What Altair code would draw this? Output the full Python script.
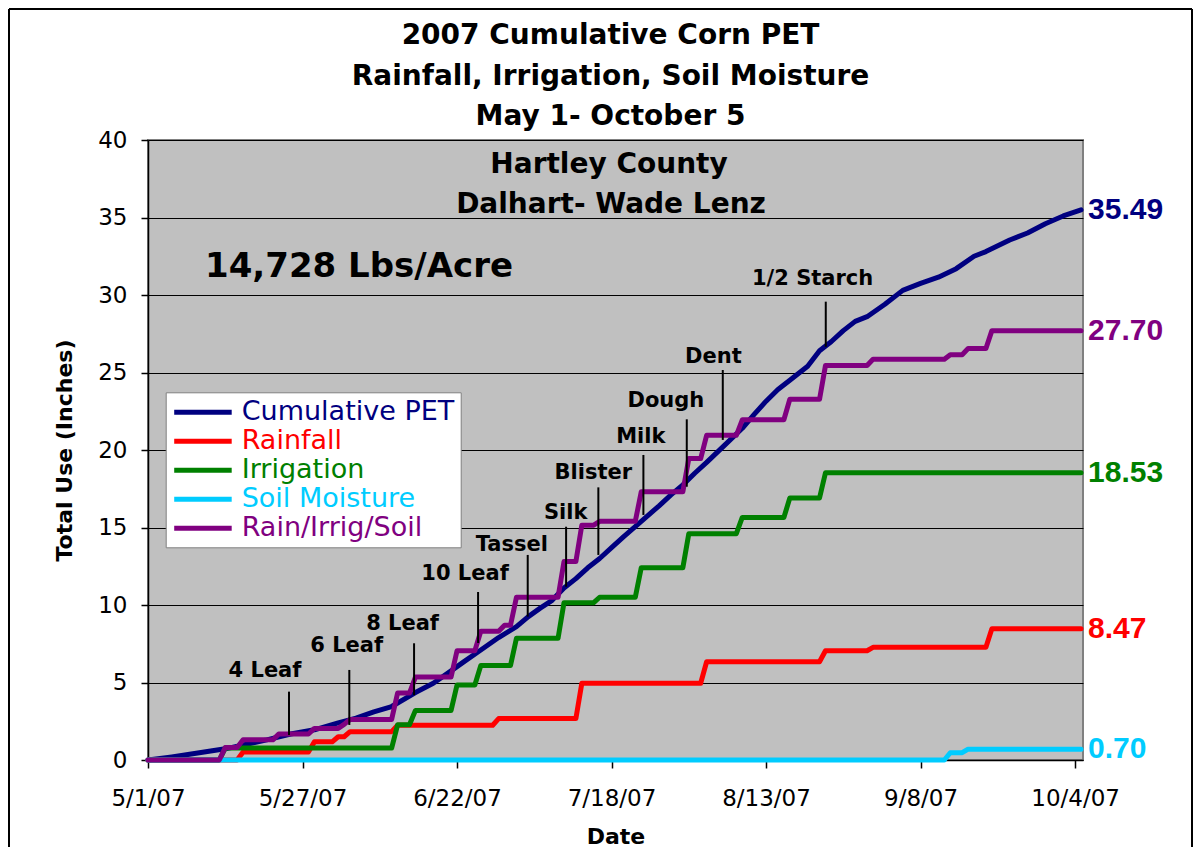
import altair as alt
import pandas as pd

# ---------------- data ----------------
title_lines = ["2007 Cumulative Corn PET", "Rainfall, Irrigation, Soil Moisture", "May 1- October 5"]
county_text = "Hartley County"
grower_text = "Dalhart- Wade Lenz"
yield_text = "14,728 Lbs/Acre"
x_title = "Date"
y_title = "Total Use (Inches)"
x_tick_dates = ["5/1", "5/27", "6/22", "7/18", "8/13", "9/8", "10/4"]
y_ticks = [0, 5, 10, 15, 20, 25, 30, 35, 40]

series_names = ["Cumulative PET", "Rainfall", "Irrigation", "Soil Moisture", "Rain/Irrig/Soil"]
series_colors = ["#000080", "#FF0000", "#008000", "#00CCFF", "#800080"]

pet_dates = ["5/1", "5/5", "5/11", "5/14", "5/18", "5/21", "5/25", "5/29", "6/2", "6/5",
             "6/8", "6/11", "6/15", "6/18", "6/21", "6/23", "6/26", "6/29", "7/2", "7/4",
             "7/6", "7/8", "7/10", "7/12", "7/14", "7/16", "7/18", "7/20", "7/23", "7/26",
             "7/28", "7/30", "8/1", "8/3", "8/6", "8/9", "8/11", "8/13", "8/15", "8/17",
             "8/20", "8/22", "8/24", "8/26", "8/28", "8/30", "9/2", "9/5", "9/8", "9/11",
             "9/14", "9/17", "9/19", "9/23", "9/26", "9/29", "10/2", "10/5"]
pet_values = [0, 0.2, 0.55, 0.72, 1.05, 1.3, 1.68, 1.95, 2.4, 2.7,
              3.1, 3.45, 4.35, 4.95, 5.75, 6.3, 7.1, 7.9, 8.6, 9.25,
              9.8, 10.3, 11.1, 11.7, 12.4, 13.0, 13.7, 14.4, 15.4, 16.4,
              17.1, 17.75, 18.5, 19.2, 20.3, 21.4, 22.3, 23.15, 23.9, 24.5,
              25.4, 26.4, 27.0, 27.7, 28.3, 28.6, 29.4, 30.3, 30.75, 31.15,
              31.7, 32.5, 32.8, 33.55, 34.0, 34.6, 35.1, 35.49]

rain_dates = ["5/1", "5/16", "5/17", "5/28", "5/29", "6/1", "6/2", "6/3", "6/4", "6/11",
              "6/12", "6/28", "6/29", "7/12", "7/13", "8/2", "8/3", "8/22", "8/23", "8/30",
              "8/31", "9/19", "9/20", "10/5"]
rain_values = [0, 0, 0.52, 0.52, 1.17, 1.17, 1.5, 1.5, 1.83, 1.83,
               2.24, 2.24, 2.67, 2.67, 4.95, 4.95, 6.34, 6.34, 7.05, 7.05,
               7.27, 7.27, 8.47, 8.47]

irr_dates = ["5/1", "5/13", "5/14", "6/11", "6/12", "6/14", "6/15", "6/21", "6/22", "6/25",
             "6/26", "7/1", "7/2", "7/9", "7/10", "7/15", "7/16", "7/22", "7/23", "7/30",
             "7/31", "8/8", "8/9", "8/16", "8/17", "8/22", "8/23", "10/5"]
irr_values = [0, 0, 0.77, 0.77, 2.27, 2.27, 3.2, 3.2, 4.84, 4.84,
              6.1, 6.1, 7.85, 7.85, 10.15, 10.15, 10.5, 10.5, 12.4, 12.4,
              14.6, 14.6, 15.65, 15.65, 16.9, 16.9, 18.53, 18.53]

soil_dates = ["5/1", "9/12", "9/13", "9/15", "9/16", "10/5"]
soil_values = [0, 0, 0.47, 0.47, 0.70, 0.70]

total_dates = ["5/1", "5/13", "5/14", "5/16", "5/17", "5/22", "5/23", "5/28", "5/29", "6/2",
               "6/3", "6/4", "6/11", "6/12", "6/14", "6/15", "6/21", "6/22", "6/25", "6/26",
               "6/29", "6/30", "7/1", "7/2", "7/9", "7/10", "7/12", "7/13", "7/15", "7/16",
               "7/22", "7/23", "7/30", "7/31", "8/2", "8/3", "8/8", "8/9", "8/16", "8/17",
               "8/22", "8/23", "8/30", "8/31", "9/12", "9/13", "9/15", "9/16", "9/19", "9/20",
               "10/5"]
total_values = [0, 0, 0.8, 0.8, 1.3, 1.3, 1.68, 1.68, 2.04, 2.04,
                2.3, 2.62, 2.62, 4.32, 4.32, 5.35, 5.35, 7.05, 7.05, 8.3,
                8.3, 8.7, 8.7, 10.5, 10.5, 12.8, 12.8, 15.15, 15.15, 15.4,
                15.4, 17.3, 17.3, 19.45, 19.45, 20.95, 20.95, 21.95, 21.95, 23.27,
                23.27, 25.45, 25.45, 25.85, 25.85, 26.15, 26.15, 26.55, 26.55, 27.70,
                27.70]

series_dates = [pet_dates, rain_dates, irr_dates, soil_dates, total_dates]
series_values = [pet_values, rain_values, irr_values, soil_values, total_values]

stage_names = ["4 Leaf", "6 Leaf", "8 Leaf", "10 Leaf", "Tassel", "Silk", "Blister",
               "Milk", "Dough", "Dent", "1/2 Starch"]
stage_dates = ["5/24 17:30", "6/3 21:00", "6/14 18:30", "6/25 13:00", "7/3 21:30", "7/10 08:30",
               "7/15 18:45", "7/23 08:40", "7/30 15:50", "8/5 17:15", "8/23 01:10"]
stage_tops = [4.41, 5.81, 7.53, 10.84, 13.23, 15.05, 17.59, 19.68, 21.98, 25.16, 29.57]
stage_bottoms = [1.61, 2.26, 4.19, 7.55, 9.25, 11.18, 13.23, 15.81, 17.63, 20.65, 26.66]
stage_label_dates = ["5/20 16:30", "6/3 10:30", "6/12 20:00", "6/23 08:30", "7/1 05:00", "7/10 07:00",
                     "7/14 22:30", "7/22 22:20", "7/27 03:20", "8/4 03:20", "8/20 20:00"]
stage_label_values = [5.37, 6.99, 8.39, 11.6, 13.5, 15.53, 18.11, 20.43, 22.75, 25.59, 30.65]


def iso(md):
    parts = md.split(" ")
    m, d = parts[0].split("/")
    t = parts[1] if len(parts) > 1 else "00:00"
    return f"2007-{int(m):02d}-{int(d):02d}T{t}:00"


rows = []
for name, dates, vals in zip(series_names, series_dates, series_values):
    for dt, v in zip(dates, vals):
        rows.append({"series": name, "date": iso(dt), "value": v})
df = pd.DataFrame(rows)

stage_df = pd.DataFrame({
    "stage": stage_names,
    "date": [iso(s) for s in stage_dates],
    "top": stage_tops,
    "bottom": stage_bottoms,
    "ldate": [iso(s) for s in stage_label_dates],
    "lvalue": stage_label_values,
})

one = pd.DataFrame({"k": [0]})

# ---------------- scales / axes ----------------
FONT = "DejaVu Sans"

x_scale = alt.Scale(domain=[alt.DateTime(year=2007, month=5, date=1),
                            alt.DateTime(year=2007, month=10, date=5, hours=8)])
y_scale = alt.Scale(domain=[0, 40], nice=False)

x_axis = alt.Axis(
    values=[alt.DateTime(year=2007, month=int(s.split("/")[0]), date=int(s.split("/")[1]))
            for s in x_tick_dates],
    format="%-m/%-d/%y", labelFont=FONT, labelFontSize=23, labelColor="black",
    labelPadding=19, labelFlush=False, labelOverlap=False,
    tickSize=8, tickColor="black", tickWidth=1.5,
    domainColor="black", domainWidth=1.5, grid=False,
    title=x_title, titleFont=FONT, titleFontSize=22, titleFontWeight="bold",
    titleColor="black", titlePadding=16,
)
y_axis = alt.Axis(
    values=y_ticks, labelFont=FONT, labelFontSize=23, labelColor="black",
    labelPadding=14, tickSize=7, tickColor="black", tickWidth=1.5,
    domainColor="black", domainWidth=1.5,
    grid=True, gridColor="black", gridWidth=1,
    title=y_title, titleFont=FONT, titleFontSize=22, titleFontWeight="bold",
    titleColor="black", titlePadding=21,
)


def X(field):
    return alt.X(f"{field}:T", scale=x_scale, axis=x_axis)


def Y(field):
    return alt.Y(f"{field}:Q", scale=y_scale, axis=y_axis)


label_color_expr = " : ".join(
    f"datum.label === '{n}' ? '{c}'" for n, c in zip(series_names[:-1], series_colors[:-1])
) + f" : '{series_colors[-1]}'"

legend = alt.Legend(
    title=None, orient="none", legendX=17.7, legendY=252.3,
    symbolType="M-1,0L4,0", symbolSize=529, symbolStrokeWidth=5,
    labelFont=FONT, labelFontSize=27, labelColor={"expr": label_color_expr},
    labelLimit=400, labelOffset=42, rowPadding=2,
    fillColor="white", strokeColor="#808080", padding=6, cornerRadius=0,
)
color_enc = alt.Color("series:N", scale=alt.Scale(domain=series_names, range=series_colors),
                      legend=legend)

layers = []
for name in series_names:
    layers.append(
        alt.Chart(df).transform_filter(alt.datum.series == name)
        .mark_line(strokeWidth=5, strokeJoin="round", strokeCap="round")
        .encode(x=X("date"), y=Y("value"), color=color_enc)
    )

# stage pointers and labels
layers.append(
    alt.Chart(stage_df).mark_rule(color="black", strokeWidth=2)
    .encode(x=X("date"), y=Y("top"), y2=alt.Y2("bottom"))
)
layers.append(
    alt.Chart(stage_df).mark_text(font=FONT, fontSize=21, fontWeight="bold", color="black",
                                  align="center", baseline="alphabetic")
    .encode(x=X("ldate"), y=Y("lvalue"), text="stage:N")
)

# end-of-season value labels
for name, dates, vals, col in zip(series_names, series_dates, series_values, series_colors):
    end_df = pd.DataFrame({"date": [iso(dates[-1])], "value": [vals[-1]],
                           "label": [f"{vals[-1]:.2f}"]})
    layers.append(
        alt.Chart(end_df).mark_text(font="Liberation Sans", fontSize=30, fontWeight="bold",
                                    color=col, align="left", baseline="middle", dx=7)
        .encode(x=X("date"), y=Y("value"), text="label:N")
    )

# chart title (three centred lines) and in-plot text boxes
text_boxes = [
    (title_lines[0], 462.5, -95.7, 28),
    (title_lines[1], 462.5, -55.0, 28),
    (title_lines[2], 462.5, -15.2, 28),
    (county_text, 461, 33.3, 28),
    (grower_text, 463, 73.3, 28),
    (yield_text, 211, 136.7, 34),
]
for txt, px, py, fs in text_boxes:
    layers.append(
        alt.Chart(one).mark_text(text=txt, font=FONT, fontSize=fs, fontWeight="bold",
                                 color="black", align="center", baseline="alphabetic")
        .encode(x=alt.value(px), y=alt.value(py))
    )

# outer chart frame
layers.append(alt.Chart(one).mark_rule(color="black", strokeWidth=2)
              .encode(x=alt.value(-139), y=alt.value(-131), y2=alt.value(707)))
layers.append(alt.Chart(one).mark_rule(color="black", strokeWidth=2)
              .encode(x=alt.value(-139), x2=alt.value(1044), y=alt.value(-131)))
layers.append(alt.Chart(one).mark_rule(color="black", strokeWidth=2)
              .encode(x=alt.value(1044), y=alt.value(-131), y2=alt.value(707)))

chart = alt.layer(*layers).properties(
    width=935, height=620,
    autosize=alt.AutoSizeParams(type="none"),
    padding={"left": 140, "top": 132, "right": 110, "bottom": 87},
).configure_view(fill="#C0C0C0", stroke="#808080", strokeWidth=2)

chart.save("out.html", embed_options={"renderer": "svg", "actions": False})
